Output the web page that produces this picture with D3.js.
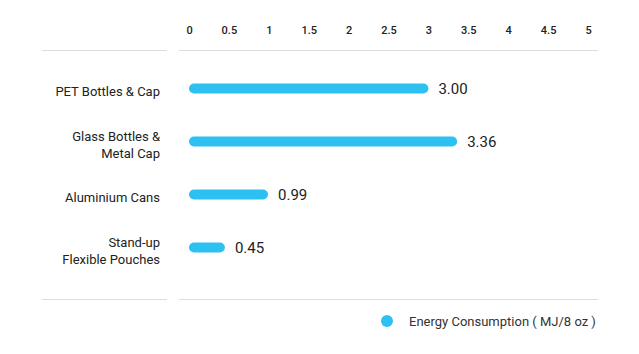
<!DOCTYPE html>
<html>
<head>
    <script src="https://d3js.org/d3.v7.min.js"></script>
    <style>
        body {
            margin: 0;
            background: #fff;
            font-family: Roboto, "Noto Sans", sans-serif;
        }
        .tick-label { font-size: 11px; fill: #222; font-weight: 500; }
        .cat-label { font-size: 13px; fill: #222; }
        .value-label { font-size: 15px; fill: #222; }
        .legend-label { font-size: 13px; fill: #333; }
        .rule { stroke: #ddd; stroke-width: 1; }
    </style>
</head>
<body>
    <div id="chart"></div>
    <script>
        // data
        const categories = [
            ["PET Bottles & Cap"],
            ["Glass Bottles &", "Metal Cap"],
            ["Aluminium Cans"],
            ["Stand-up", "Flexible Pouches"]
        ];
        const energy = [3.00, 3.36, 0.99, 0.45];
        const tickValues = [0, 0.5, 1, 1.5, 2, 2.5, 3, 3.5, 4, 4.5, 5];
        const seriesName = "Energy Consumption ( MJ/8 oz )";

        const width = 639, height = 354;
        const color = "#2cc1f1";

        const svg = d3.select("#chart").append("svg")
            .attr("width", width)
            .attr("height", height);

        const x = d3.scaleLinear().domain([0, 5]).range([189, 588]);
        const y = d3.scaleBand()
            .domain(d3.range(categories.length))
            .range([62, 274]);

        // rules at top and bottom
        [50.5, 299.5].forEach(yy => {
            svg.append("line").attr("class", "rule")
                .attr("x1", 42).attr("x2", 167).attr("y1", yy).attr("y2", yy);
            svg.append("line").attr("class", "rule")
                .attr("x1", 179).attr("x2", 598).attr("y1", yy).attr("y2", yy);
        });

        // top axis labels
        const axis = d3.axisTop(x)
            .tickValues(tickValues)
            .tickSize(0)
            .tickPadding(0)
            .tickFormat(d3.format("~g"));
        const ax = svg.append("g")
            .attr("transform", "translate(0,34)")
            .call(axis);
        ax.select(".domain").remove();
        ax.selectAll("text").attr("class", "tick-label").attr("fill", null)
            .style("font-family", "Roboto, sans-serif");

        // bars
        const barH = 10;
        const rows = svg.append("g").selectAll("g")
            .data(energy)
            .join("g")
            .attr("transform", (d, i) => `translate(0,${y(i) + y.bandwidth() / 2})`);

        rows.append("rect")
            .attr("x", x(0))
            .attr("y", -barH / 2)
            .attr("width", d => x(d) - x(0))
            .attr("height", barH)
            .attr("rx", barH / 2)
            .attr("fill", color);

        rows.append("text")
            .attr("class", "value-label")
            .attr("x", d => x(d) + 10)
            .attr("dy", "0.35em")
            .text(d => d.toFixed(2));

        // category labels
        const lineH = 17;
        rows.append("text")
            .attr("class", "cat-label")
            .attr("text-anchor", "end")
            .attr("x", 160)
            .each(function(d, i) {
                const lines = categories[i];
                const t = d3.select(this);
                lines.forEach((ln, k) => {
                    t.append("tspan")
                        .attr("x", 160)
                        .attr("y", 3 + (k - (lines.length - 1) / 2) * lineH)
                        .attr("dy", "0.35em")
                        .text(ln);
                });
            });

        // legend
        const lg = svg.append("g").attr("transform", "translate(387,321)");
        lg.append("circle").attr("r", 6).attr("fill", color);
        lg.append("text").attr("class", "legend-label")
            .attr("x", 22).attr("dy", "0.35em")
            .text(seriesName);
    </script>
</body>
</html>
